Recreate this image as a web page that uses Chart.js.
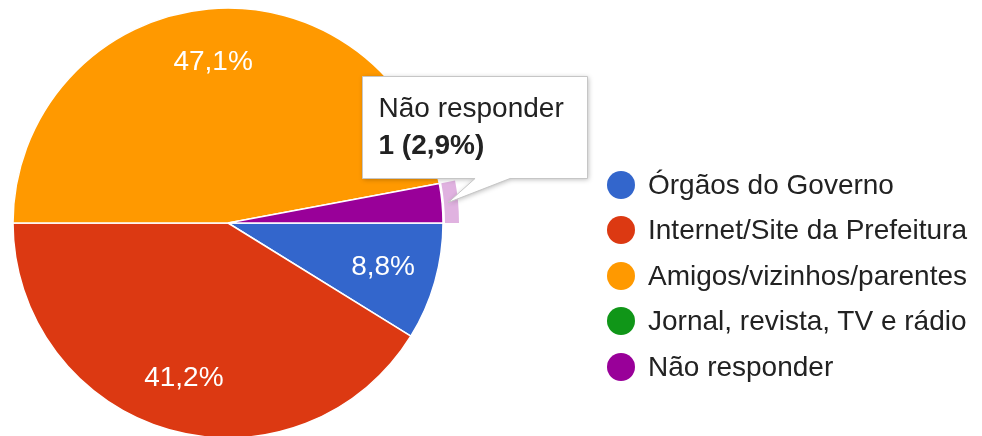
<!DOCTYPE html>
<html lang="pt-BR">
<head>
<meta charset="utf-8">
<title>Como ficou sabendo</title>
<script src="https://cdn.jsdelivr.net/npm/chart.js@4.4.0/dist/chart.umd.min.js"></script>
<style>
  html, body { margin: 0; padding: 0; background: #fff; overflow: hidden; }
  #wrap { position: relative; width: 982px; height: 436px; }
  #grafico { position: absolute; left: 0; top: 0; }
  #legenda {
    position: absolute; left: 607px; top: 162px;
    font-family: Arial, "Liberation Sans", sans-serif; font-size: 28px; color: #222;
  }
  #legenda .item { display: flex; align-items: center; height: 45.5px; white-space: nowrap; }
  #legenda .bola { width: 28px; height: 28px; border-radius: 50%; margin-right: 13px; flex: none; }
</style>
</head>
<body>
<div id="wrap">
  <canvas id="grafico" width="982" height="436"></canvas>
  <div id="legenda"></div>
</div>
<script>
// Respostas (quantidade de pessoas por fonte)
const categorias = [
  "Órgãos do Governo",
  "Internet/Site da Prefeitura",
  "Amigos/vizinhos/parentes",
  "Jornal, revista, TV e rádio",
  "Não responder"
];
const valores = [3, 14, 16, 0, 1];
const cores = ["#3366cc", "#dc3912", "#ff9900", "#109618", "#990099"];
const corDestaque = "#e0b2e0"; // anel claro da fatia selecionada
const indiceDestaque = 4;      // fatia com o balão aberto

const fonte = 'Arial, "Liberation Sans", sans-serif';
const total = valores.reduce((a, b) => a + b, 0);

// 47.06 -> "47,1%"
function formataPct(v) {
  return v.toFixed(1).replace(".", ",") + "%";
}

// Legenda em HTML, montada a partir das listas
const legenda = document.getElementById("legenda");
categorias.forEach((nome, i) => {
  const item = document.createElement("div");
  item.className = "item";
  const bola = document.createElement("span");
  bola.className = "bola";
  bola.style.background = cores[i];
  const txt = document.createElement("span");
  txt.textContent = nome;
  item.appendChild(bola);
  item.appendChild(txt);
  legenda.appendChild(item);
});

// Porcentagens escritas dentro das fatias maiores
const rotulosFatias = {
  id: "rotulosFatias",
  afterDatasetsDraw(chart) {
    const ctx = chart.ctx;
    const meta = chart.getDatasetMeta(0);
    ctx.save();
    ctx.font = "28px " + fonte;
    ctx.fillStyle = "#fff";
    ctx.textAlign = "center";
    ctx.textBaseline = "middle";
    meta.data.forEach((arc, i) => {
      const pct = valores[i] / total * 100;
      if (pct < 5) return;
      const p = arc.getProps(["x", "y", "startAngle", "endAngle", "outerRadius"], true);
      const meio = (p.startAngle + p.endAngle) / 2;
      const r = p.outerRadius * 0.75;
      ctx.fillText(formataPct(pct), p.x + Math.cos(meio) * r, p.y + Math.sin(meio) * r);
    });
    ctx.restore();
  }
};

// Anel de destaque e balão da fatia selecionada
const balao = {
  id: "balao",
  afterDraw(chart) {
    const ctx = chart.ctx;
    const arc = chart.getDatasetMeta(0).data[indiceDestaque];
    const p = arc.getProps(["x", "y", "startAngle", "endAngle", "outerRadius"], true);
    const meio = (p.startAngle + p.endAngle) / 2;

    ctx.save();
    ctx.beginPath();
    ctx.arc(p.x, p.y, p.outerRadius + 16, p.startAngle, p.endAngle);
    ctx.arc(p.x, p.y, p.outerRadius + 2, p.endAngle, p.startAngle, true);
    ctx.closePath();
    ctx.fillStyle = corDestaque;
    ctx.fill();

    // ponta do balão fica sobre o anel da fatia
    const px = p.x + Math.cos(meio) * (p.outerRadius + 6);
    const py = p.y + Math.sin(meio) * (p.outerRadius + 6);
    const esq = Math.round(px - 86) + 0.5;
    const topo = Math.round(py - 127) + 0.5;
    const larg = 225, alt = 102;
    const base = topo + alt;

    ctx.beginPath();
    ctx.moveTo(esq, topo);
    ctx.lineTo(esq + larg, topo);
    ctx.lineTo(esq + larg, base);
    ctx.lineTo(px + 62, base);
    ctx.lineTo(px, py);
    ctx.lineTo(px + 27, base);
    ctx.lineTo(esq, base);
    ctx.closePath();
    ctx.shadowColor = "rgba(0,0,0,0.28)";
    ctx.shadowBlur = 5;
    ctx.shadowOffsetX = 1;
    ctx.shadowOffsetY = 1;
    ctx.fillStyle = "#fff";
    ctx.fill();
    ctx.shadowColor = "transparent";
    ctx.strokeStyle = "#c6c6c6";
    ctx.lineWidth = 1;
    ctx.stroke();

    const pct = valores[indiceDestaque] / total * 100;
    ctx.fillStyle = "#222";
    ctx.textAlign = "left";
    ctx.textBaseline = "alphabetic";
    ctx.font = "28px " + fonte;
    ctx.fillText(categorias[indiceDestaque], esq + 16, topo + 40);
    ctx.font = "bold 28px " + fonte;
    ctx.fillText(valores[indiceDestaque] + " (" + formataPct(pct) + ")", esq + 16, topo + 77);
    ctx.restore();
  }
};

new Chart(document.getElementById("grafico"), {
  type: "pie",
  data: {
    labels: categorias,
    datasets: [{
      data: valores,
      backgroundColor: cores,
      borderColor: "#fff",
      borderWidth: 1.5
    }]
  },
  options: {
    responsive: false,
    animation: false,
    events: [],
    rotation: 90,
    radius: 215,
    layout: { padding: { top: 10, right: 526, bottom: 0, left: 0 } },
    plugins: {
      legend: { display: false },
      tooltip: { enabled: false }
    }
  },
  plugins: [rotulosFatias, balao]
});
</script>
</body>
</html>
